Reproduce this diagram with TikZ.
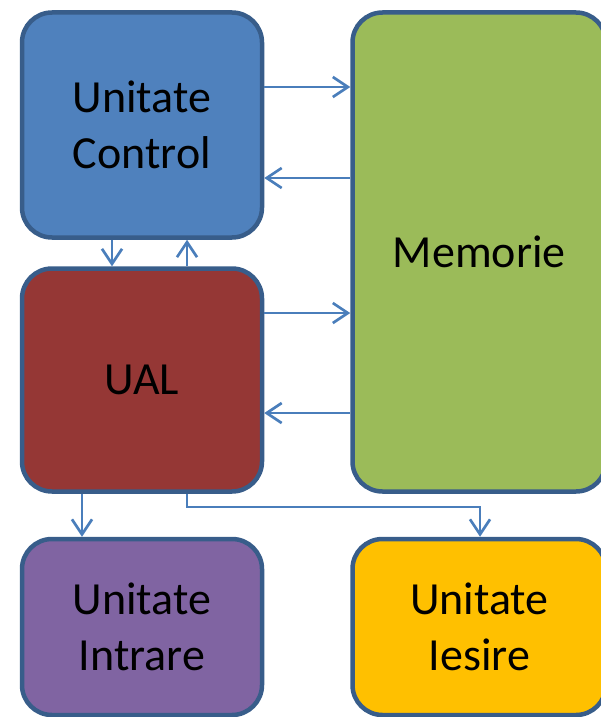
\documentclass[tikz,border=0pt]{standalone}
\usepackage{fontspec}
\setmainfont{Carlito}
\usetikzlibrary{arrows.meta}
\definecolor{bordc}{HTML}{385D8A}
\definecolor{arrc}{HTML}{4A7EBB}
\definecolor{cblue}{HTML}{4F81BD}
\definecolor{cred}{HTML}{953735}
\definecolor{cgreen}{HTML}{9BBB59}
\definecolor{cpurple}{HTML}{8064A2}
\definecolor{cgold}{HTML}{FFC000}
\tikzset{
  unitbox/.style={draw=bordc, line width=4.5pt, rounded corners=30pt, rectangle,
    inner sep=0pt, align=center, text=black,
    font=\fontsize{46}{56}\selectfont},
  arr/.style={draw=arrc, line width=2.7pt, -{Straight Barb[length=15pt,width=20pt,line width=2.7pt]}}
}
\begin{document}
\begin{tikzpicture}[x=1pt,y=-1pt]
\useasboundingbox (0,0) rectangle (601,717);
\node[unitbox, fill=cblue, minimum width=240pt, minimum height=225pt] (cu) at (142,125) {Unitate\\Control};
\node[unitbox, fill=cred, minimum width=240pt, minimum height=223pt] (ual) at (142,380) {UAL};
\node[unitbox, fill=cgreen, minimum width=253.5pt, minimum height=479pt] (mem) at (479.25,252) {Memorie};
\node[unitbox, fill=cpurple, minimum width=240pt, minimum height=176pt] (in) at (142,627) {Unitate\\Intrare};
\node[unitbox, fill=cgold, minimum width=253.5pt, minimum height=176pt] (out) at (479.25,627) {Unitate\\Iesire};
\coordinate (elbowA) at (187,507);
\coordinate (elbowB) at (480,507);
\draw[arr] (cu.east |- 0,87) -- (mem.west |- 0,87);
\draw[arr] (mem.west |- 0,178) -- (cu.east |- 0,178);
\draw[arr] (ual.east |- 0,313) -- (mem.west |- 0,313);
\draw[arr] (mem.west |- 0,413) -- (ual.east |- 0,413);
\draw[arr] (cu.south -| 112,0) -- (ual.north -| 112,0);
\draw[arr] (ual.north -| 187,0) -- (cu.south -| 187,0);
\draw[arr] (ual.south -| 82,0) -- (in.north -| 82,0);
\draw[arr] (ual.south -| elbowA) -- (elbowA) -- (elbowB) -- (out.north -| elbowB);
\end{tikzpicture}
\end{document}
